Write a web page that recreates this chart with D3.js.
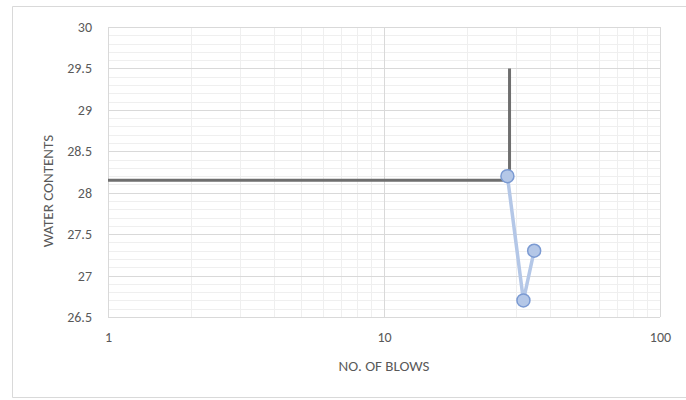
<!DOCTYPE html>
<html>
<head>
<meta charset="utf-8">
<script src="https://cdn.jsdelivr.net/npm/d3@7"></script>
<style>
  body { margin: 0; background: #fff; overflow: hidden; }
  text { font-family: Carlito, "Liberation Sans", sans-serif; fill: #595959; }
</style>
</head>
<body>
<div id="chart"></div>
<script>
// liquid limit test points
const blows = [28, 32, 35];
const waterContent = [28.2, 26.7, 27.3];
// reading lines
const guideX = [1, 28.5, 28.5];
const guideY = [28.15, 28.15, 29.5];
const yTicks = [26.5, 27, 27.5, 28, 28.5, 29, 29.5, 30];
const xTicks = [1, 10, 100];

const width = 686, height = 400;
const margin = { top: 27, right: 26, bottom: 83, left: 108 };
const innerWidth = width - margin.left - margin.right;
const innerHeight = height - margin.top - margin.bottom;

const svg = d3.select('#chart')
    .append('svg')
    .attr('width', width)
    .attr('height', height)
    .style('display', 'block');

// chart frame (right edge runs off the picture)
svg.append('path')
    .attr('d', 'M686,6.5H12.5V397.5H686')
    .attr('fill', 'none')
    .attr('stroke', '#d9d9d9');

const g = svg.append('g')
    .attr('transform', `translate(${margin.left},${margin.top})`);

const x = d3.scaleLog().domain([1, 100]).range([0, innerWidth]);
const y = d3.scaleLinear().domain([26.5, 30]).range([innerHeight, 0]);

// minor grid
const minorY = d3.range(265, 301).map(v => v / 10).filter(v => !yTicks.includes(v));
g.selectAll('.minor-y')
    .data(minorY)
    .enter().append('line')
    .attr('x1', 0).attr('x2', innerWidth)
    .attr('y1', d => Math.round(y(d)) + 0.5).attr('y2', d => Math.round(y(d)) + 0.5)
    .attr('stroke', '#efefef');

const minorX = [2, 3, 4, 5, 6, 7, 8, 9, 20, 30, 40, 50, 60, 70, 80, 90];
g.selectAll('.minor-x')
    .data(minorX)
    .enter().append('line')
    .attr('x1', d => Math.round(x(d)) + 0.5).attr('x2', d => Math.round(x(d)) + 0.5)
    .attr('y1', 0).attr('y2', innerHeight)
    .attr('stroke', '#efefef');

// major grid
g.selectAll('.major-y')
    .data(yTicks)
    .enter().append('line')
    .attr('x1', 0).attr('x2', innerWidth)
    .attr('y1', d => Math.round(y(d)) + 0.5).attr('y2', d => Math.round(y(d)) + 0.5)
    .attr('stroke', '#d9d9d9');

g.selectAll('.major-x')
    .data(xTicks)
    .enter().append('line')
    .attr('x1', d => Math.round(x(d)) + 0.5).attr('x2', d => Math.round(x(d)) + 0.5)
    .attr('y1', 0).attr('y2', innerHeight)
    .attr('stroke', '#d9d9d9');

// axis labels
const yAxis = d3.axisLeft(y).tickValues(yTicks).tickSize(0).tickPadding(16)
    .tickFormat(d => d3.format('')(d));
g.append('g').call(yAxis)
    .call(s => s.select('.domain').remove())
    .selectAll('text').style('font-size', '14px').attr('fill', '#595959');

const xAxis = d3.axisBottom(x).tickValues(xTicks).tickSize(0).tickPadding(15)
    .tickFormat(d => d);
g.append('g').attr('transform', `translate(0,${innerHeight})`).call(xAxis)
    .call(s => s.select('.domain').remove())
    .selectAll('text').style('font-size', '14px').attr('fill', '#595959');

// reading guide line
const line = d3.line().x((d, i) => x(guideX[i])).y(d => y(d));
g.append('path')
    .attr('d', line(guideY))
    .attr('fill', 'none')
    .attr('stroke', '#6f6f6f')
    .attr('stroke-width', 3);

// test series
const seriesLine = d3.line().x((d, i) => x(blows[i])).y(d => y(d));
g.append('path')
    .attr('d', seriesLine(waterContent))
    .attr('fill', 'none')
    .attr('stroke', '#b4c7e7')
    .attr('stroke-width', 3.5);

g.selectAll('.pt')
    .data(waterContent)
    .enter().append('circle')
    .attr('cx', (d, i) => x(blows[i]))
    .attr('cy', d => y(d))
    .attr('r', 6.5)
    .attr('fill', '#b4c7e7')
    .attr('stroke', '#7b9ad2')
    .attr('stroke-width', 1.5);

// titles
svg.append('text')
    .attr('x', margin.left + x(10))
    .attr('y', 371)
    .attr('text-anchor', 'middle')
    .style('font-size', '15px')
    .text('NO. OF BLOWS');

svg.append('text')
    .attr('transform', 'translate(53,191) rotate(-90)')
    .attr('text-anchor', 'middle')
    .style('font-size', '15px')
    .text('WATER CONTENTS');
</script>
</body>
</html>
